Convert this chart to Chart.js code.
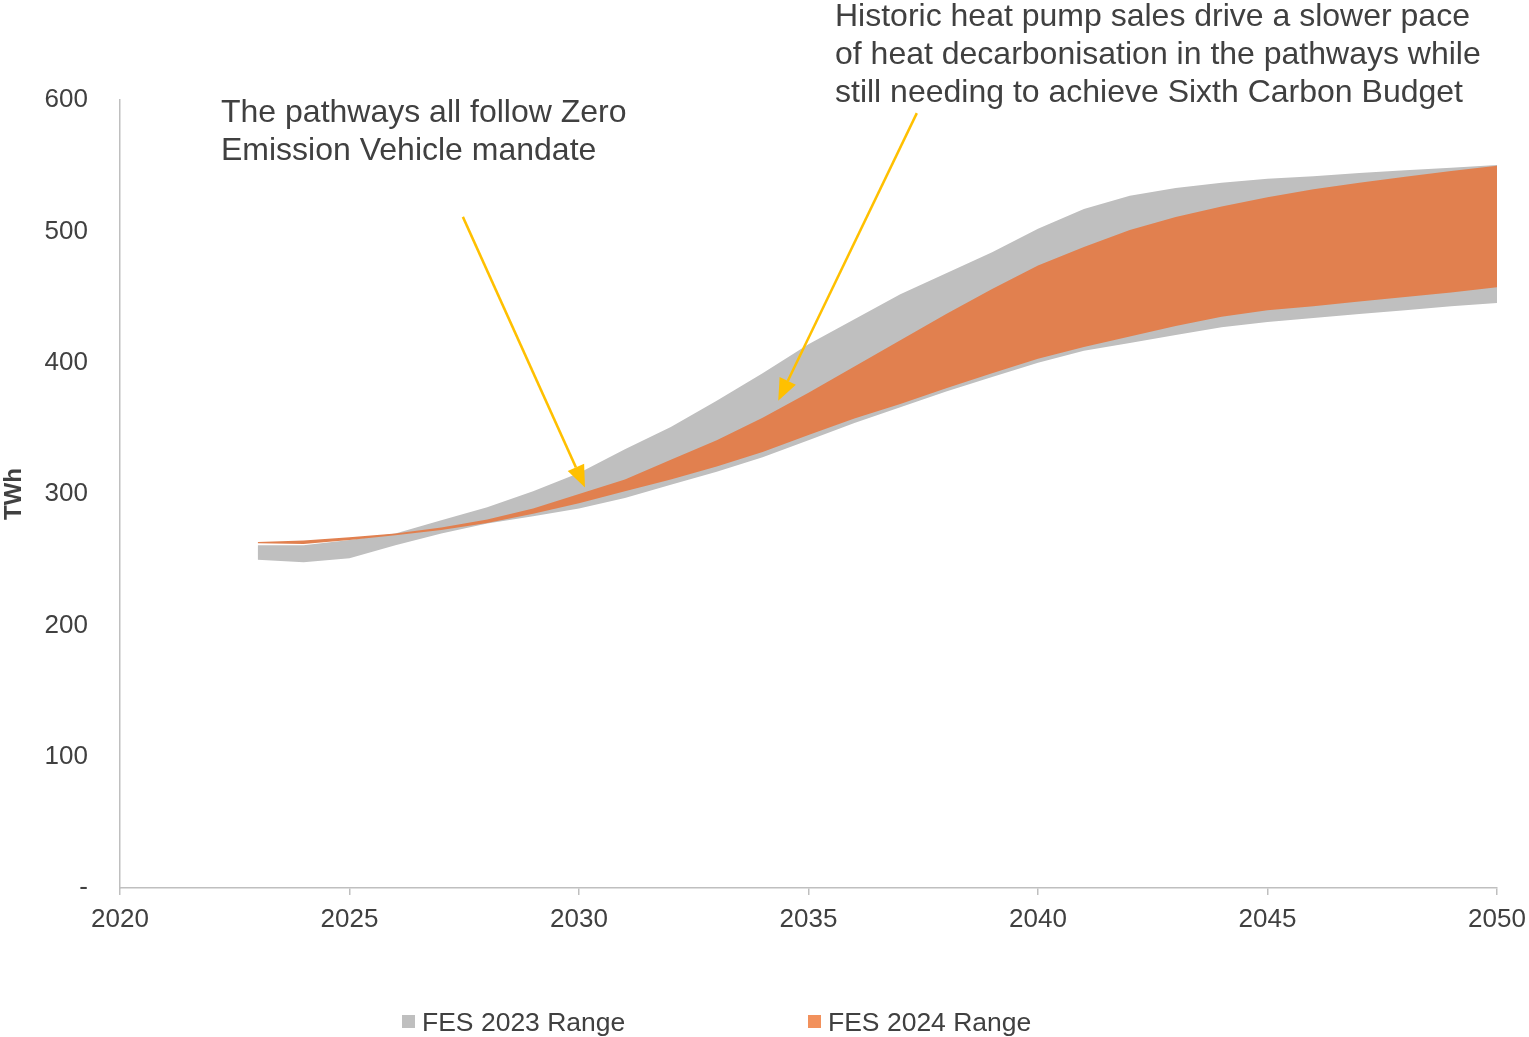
<!DOCTYPE html>
<html>
<head>
<meta charset="utf-8">
<title>Electricity demand ranges</title>
<script src="https://cdn.jsdelivr.net/npm/chart.js@4/dist/chart.umd.min.js"></script>
<style>
  html, body { margin: 0; padding: 0; background: #ffffff; }
  #wrap { width: 1529px; height: 1037px; position: relative; }
</style>
</head>
<body>
<div id="wrap"><canvas id="chart" width="1529" height="1037"></canvas></div>
<script>
// Years covered by both ranges
const years = [2023, 2024, 2025, 2026, 2027, 2028, 2029, 2030, 2031, 2032, 2033, 2034, 2035, 2036,
               2037, 2038, 2039, 2040, 2041, 2042, 2043, 2044, 2045, 2046, 2047, 2048, 2049, 2050];

// FES 2023 range (TWh)
const fes2023Max = [261, 261, 265, 270, 280, 290, 302, 316, 334, 351, 371, 392, 414, 433,
                    452, 468, 484, 502, 517, 527, 533, 537, 540, 542, 544.5, 546.5, 548.5, 550.5];
const fes2023Min = [250, 248, 251, 261, 270, 277.5, 283, 289, 297, 307, 317, 328, 341, 354,
                    366, 378, 389, 400, 409, 415, 421, 427, 431, 434, 437, 440, 443, 445.5];

// FES 2024 range (TWh)
const fes2024Max = [263.5, 264.5, 267, 270, 274.5, 280.5, 289, 300, 311, 326, 341, 358, 377, 397,
                    417, 437, 456, 474, 488, 501, 511, 519, 526, 532, 537, 541.5, 546, 550];
const fes2024Min = [262.5, 262, 265, 268.5, 272.5, 278, 285, 293, 302, 311, 321, 332, 345, 357.5,
                    368.5, 380.5, 392, 403, 412, 420, 428, 435, 440, 443, 446.5, 450, 453.5, 457.5];

const seriesLabels = ['FES 2023 Range', 'FES 2024 Range'];
const xTickValues = [2020, 2025, 2030, 2035, 2040, 2045, 2050];
const yTickValues = [0, 100, 200, 300, 400, 500, 600];
const yTitle = 'TWh';

const noteTexts = [
  ['The pathways all follow Zero', 'Emission Vehicle mandate'],
  ['Historic heat pump sales drive a slower pace', 'of heat decarbonisation in the pathways while', 'still needing to achieve Sixth Carbon Budget']
];

// ---- styling ----
const FONT = '"Liberation Sans", Arial, Helvetica, sans-serif';
const GREY = '#BFBFBF';
const ORANGE = '#E1804F';
const ORANGE_KEY = '#F2915C';
const TEXT = '#404040';
const AXIS = '#BFBFBF';
const ARROW = '#FFC000';

const pts = arr => years.map((y, i) => ({ x: y, y: arr[i] }));

function band(label, data, color, fill, order) {
  return {
    label: label, data: pts(data), fill: fill,
    backgroundColor: color, borderColor: 'rgba(0,0,0,0)', borderWidth: 0,
    pointRadius: 0, pointHoverRadius: 0, tension: 0, order: order
  };
}

// Annotation text and arrows (arrows anchored in data space)
const notes = [
  { lines: noteTexts[0], x: 221, y: 122 },
  { lines: noteTexts[1], x: 835, y: 26 }
];
const arrows = [
  { from: [2027.47, 511], to: [2030.13, 305] },
  { from: [2037.36, 590], to: [2034.34, 371] }
];

const notesPlugin = {
  id: 'notes',
  afterDraw(chart) {
    const ctx = chart.ctx, xs = chart.scales.x, ys = chart.scales.y;
    ctx.save();
    arrows.forEach(a => {
      const x1 = xs.getPixelForValue(a.from[0]), y1 = ys.getPixelForValue(a.from[1]);
      const x2 = xs.getPixelForValue(a.to[0]), y2 = ys.getPixelForValue(a.to[1]);
      const ang = Math.atan2(y2 - y1, x2 - x1);
      const headLen = 22, headHalf = 9;
      const bx = x2 - headLen * Math.cos(ang), by = y2 - headLen * Math.sin(ang);
      ctx.strokeStyle = ARROW; ctx.lineWidth = 2.5; ctx.lineCap = 'butt';
      ctx.beginPath(); ctx.moveTo(x1, y1); ctx.lineTo(bx, by); ctx.stroke();
      ctx.fillStyle = ARROW;
      ctx.beginPath();
      ctx.moveTo(x2, y2);
      ctx.lineTo(bx + headHalf * Math.sin(ang), by - headHalf * Math.cos(ang));
      ctx.lineTo(bx - headHalf * Math.sin(ang), by + headHalf * Math.cos(ang));
      ctx.closePath(); ctx.fill();
    });
    ctx.fillStyle = TEXT;
    ctx.font = '32px ' + FONT;
    ctx.textAlign = 'left'; ctx.textBaseline = 'alphabetic';
    notes.forEach(n => n.lines.forEach((t, i) => ctx.fillText(t, n.x, n.y + i * 38)));
    ctx.restore();
  }
};

// Legend drawn below the axis
const legendItems = [
  { label: seriesLabels[0], color: GREY, x: 402 },
  { label: seriesLabels[1], color: ORANGE_KEY, x: 808 }
];
const keyPlugin = {
  id: 'key',
  afterDraw(chart) {
    const ctx = chart.ctx;
    ctx.save();
    ctx.font = '26.5px ' + FONT;
    ctx.textBaseline = 'alphabetic'; ctx.textAlign = 'left';
    legendItems.forEach(it => {
      ctx.fillStyle = it.color;
      ctx.fillRect(it.x, 1015, 13, 13);
      ctx.fillStyle = TEXT;
      ctx.fillText(it.label, it.x + 20, 1031);
    });
    ctx.restore();
  }
};

new Chart(document.getElementById('chart'), {
  type: 'line',
  data: {
    datasets: [
      band(seriesLabels[1], fes2024Max, ORANGE, '+1', 1),
      band(seriesLabels[1] + ' min', fes2024Min, ORANGE, false, 1),
      band(seriesLabels[0], fes2023Max, GREY, '+1', 2),
      band(seriesLabels[0] + ' min', fes2023Min, GREY, false, 2)
    ]
  },
  options: {
    responsive: false,
    animation: false,
    events: [],
    layout: { padding: { top: 100, right: 32, left: 0, bottom: 0 } },
    plugins: { legend: { display: false }, tooltip: { enabled: false } },
    scales: {
      x: {
        type: 'linear', min: 2020, max: 2050,
        afterBuildTicks: s => { s.ticks = xTickValues.map(v => ({ value: v })); },
        afterFit: s => { s.height = 149; s.paddingLeft = 0; s.paddingRight = 0; },
        grid: { display: true, drawOnChartArea: false, drawTicks: true, tickLength: 7, color: AXIS, lineWidth: 1.5 },
        border: { display: true, color: AXIS, width: 1.5 },
        ticks: { color: TEXT, font: { family: FONT, size: 26 }, padding: 9, maxRotation: 0, callback: v => String(v) }
      },
      y: {
        type: 'linear', min: 0, max: 600,
        afterBuildTicks: s => { s.ticks = yTickValues.map(v => ({ value: v })); },
        afterFit: s => { s.width = 120; s.paddingTop = 0; s.paddingBottom = 0; },
        grid: { display: false, drawTicks: false },
        border: { display: true, color: AXIS, width: 1.5 },
        ticks: { color: TEXT, font: { family: FONT, size: 26 }, padding: 32, callback: v => v === 0 ? '-' : String(v) },
        title: { display: true, text: yTitle, color: TEXT, font: { family: FONT, size: 24, weight: 'bold' }, padding: { top: 0, bottom: 0 } }
      }
    }
  },
  plugins: [notesPlugin, keyPlugin]
});
</script>
</body>
</html>
